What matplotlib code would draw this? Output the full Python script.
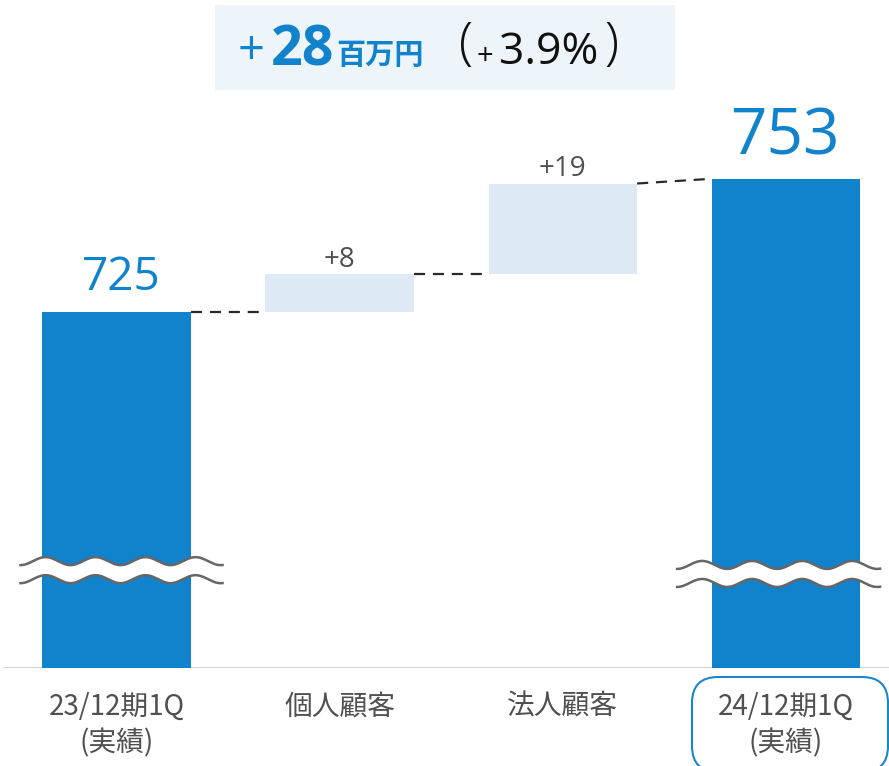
import numpy as np
import matplotlib
matplotlib.use("Agg")
import matplotlib.pyplot as plt
from matplotlib.patches import FancyBboxPatch, Rectangle
from matplotlib.transforms import IdentityTransform

# ---- data ----
categories = ['23/12期1Q\n(実績)', '個人顧客', '法人顧客', '24/12期1Q\n(実績)']
start_value = 725
deltas = [8, 19]
end_value = 753
delta_labels = ['+8', '+19']
axis_floor = 650
title_change = '28'
title_pct = '3.9%'

W, H = 889, 766
DARK = '#1183cc'
LIGHT = '#dde9f5'
GREY_TXT = '#505050'

plt.rcParams['font.family'] = ['Open Sans', 'Noto Sans CJK JP', 'DejaVu Sans']

fig = plt.figure(figsize=(W / 100, H / 100), dpi=100)
ax = fig.add_axes([0, 98 / H, 1, 668 / H])
ax.set_xlim(-0.522, 3.461)
ax.set_ylim(axis_floor, axis_floor + 668 / 4.75)
for s in ax.spines.values():
    s.set_visible(False)
ax.set_yticks([])

bw = 0.665
x = np.arange(len(categories))

# baseline
ax.axhline(axis_floor, xmin=0.005, xmax=1, color='#cfcfcf', lw=2, zorder=1)

# bars
ax.bar(x[0], start_value - axis_floor, bottom=axis_floor, width=bw, color=DARK, zorder=2)
levels = [start_value]
for i, d in enumerate(deltas):
    ax.bar(x[i + 1], d, bottom=levels[-1], width=bw, color=LIGHT, zorder=2)
    levels.append(levels[-1] + d)
ax.bar(x[3], end_value - axis_floor, bottom=axis_floor, width=bw, color=DARK, zorder=2)

# connectors
conn_y = [(start_value, start_value), (levels[1], levels[1]), (levels[2], end_value)]
for i, (y0, y1) in enumerate(conn_y):
    ax.plot([x[i] + bw / 2, x[i + 1] - bw / 2], [y0, y1], color='#2a2a2a', lw=1.6,
            dashes=(5, 3.5), zorder=3)

# value labels
ax.annotate(str(start_value), (x[0], start_value), xytext=(5, 22), textcoords='offset pixels',
            ha='center', va='baseline', fontsize=33, color=DARK, family=['Open Sans'])
ax.annotate(str(end_value), (x[3], end_value), xytext=(-1, 24), textcoords='offset pixels',
            ha='center', va='baseline', fontsize=46, color=DARK, family=['Open Sans'])
for i, lab in enumerate(delta_labels):
    ax.annotate(lab, (x[i + 1], levels[i + 1]), xytext=(0, 7), textcoords='offset pixels',
                ha='center', va='baseline', fontsize=20, color=GREY_TXT, family=['Open Sans'])

# break marks (wavy)
px = 223.2  # pixels per x unit
py = 4.75   # pixels per y unit
def wave_break(xc, left, right, y_up, y_lo):
    xs_px = np.linspace(left, right, 300)
    xs = xc + xs_px / px
    wv = 4.0 * np.cos(2 * np.pi * (xs_px - left - 25) / 50) / py
    up = y_up + wv
    lo = y_lo + wv
    ax.fill_between(xs, lo, up, color='white', zorder=4, lw=0)
    ax.plot(xs, up, color='#666666', lw=1.8, zorder=5)
    ax.plot(xs, lo, color='#666666', lw=1.8, zorder=5)

wave_break(x[0], -96, 106, 672.5, 668.7)
wave_break(x[3], -109, 94, 671.7, 667.9)

# tick labels
ax.set_xticks(x)
ax.set_xticklabels(categories, fontsize=20, color=GREY_TXT, family=['Noto Sans CJK JP'],
                   linespacing=1.3)
ax.tick_params(axis='x', length=0, pad=17)

# rounded box around last label (pixel coords)
fig.patches.append(FancyBboxPatch((692, -6), 196, 95,
                                  boxstyle='round,pad=0,rounding_size=26',
                                  transform=IdentityTransform(), fill=False,
                                  edgecolor='#1a86cc', lw=1.5))

# title box
fig.patches.append(Rectangle((215 / W, 1 - 90 / H), 460 / W, 85 / H, transform=fig.transFigure,
                             facecolor='#edf5fa', edgecolor='none', zorder=0))

def ftext(xp, yp, s, **kw):
    kw.setdefault('va', 'baseline')
    fig.text(xp / W, 1 - yp / H, s, ha='left', **kw)

ftext(238, 64, '+', fontsize=34, color=DARK, family=['Open Sans'])
ftext(271, 65, title_change, fontsize=40, fontweight='bold', color=DARK, family=['Open Sans'])
ftext(336, 64, '百万円', fontsize=21, fontweight='bold', color=DARK, family=['Noto Sans CJK JP'])
ftext(459, 59, '(', fontsize=37, color='#111111', family=['Open Sans'], fontweight='light')
ftext(477, 64, '+', fontsize=21, color='#111111', family=['Open Sans'])
ftext(499, 64, title_pct, fontsize=32, color='#111111', family=['Open Sans'])
ftext(604, 59, ')', fontsize=37, color='#111111', family=['Open Sans'], fontweight='light')

fig.savefig('out.png', dpi=100, facecolor='white')
